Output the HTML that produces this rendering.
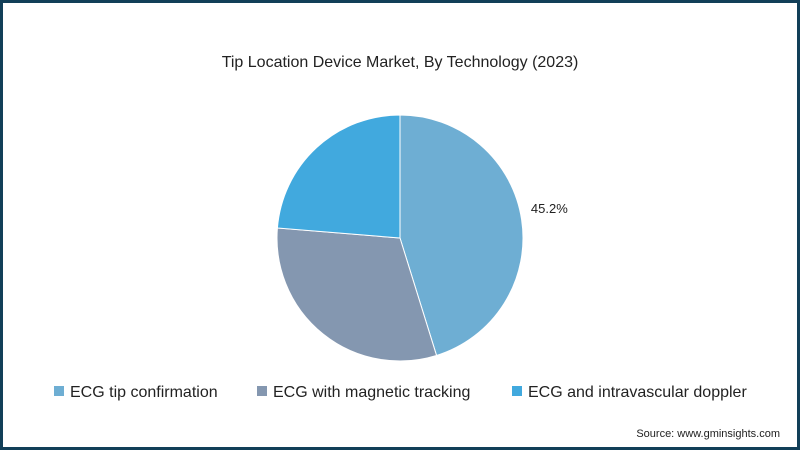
<!DOCTYPE html>
<html><head><meta charset="utf-8"><style>
html,body{margin:0;padding:0;}
body{width:800px;height:450px;overflow:hidden;background:#fff;font-family:"Liberation Sans",sans-serif;}
#frame{position:absolute;left:0;top:0;width:794px;height:444px;border:3px solid #123f58;background:#fff;}
</style></head><body>
<div id="frame"></div>
<svg width="800" height="450" style="position:absolute;left:0;top:0">
<text x="400" y="67" text-anchor="middle" font-size="16" fill="#222">Tip Location Device Market, By Technology (2023)</text>
<g id="pie"></g>
<g id="legend"></g>
<text x="780" y="437" text-anchor="end" font-size="11" fill="#222">Source: www.gminsights.com</text>
</svg>
<script>
const categories=["ECG tip confirmation","ECG with magnetic tracking","ECG and intravascular doppler"];
const values=[45.2,31.1,23.7];
const labels=["45.2%","",""];
const colors=["#6eaed3","#8497b0","#41a9de"];
const ns="http://www.w3.org/2000/svg";
const cx=400,cy=238,r=123;
const total=values.reduce((a,b)=>a+b,0);
const pie=document.getElementById('pie');
let a0=0;
function pt(a,rr){return [cx+rr*Math.sin(a),cy-rr*Math.cos(a)];}
values.forEach((v,i)=>{
  const a1=a0+v/total*2*Math.PI;
  const p0=pt(a0,r),p1=pt(a1,r);
  const large=(a1-a0)>Math.PI?1:0;
  const path=document.createElementNS(ns,'path');
  path.setAttribute('d',`M${cx},${cy} L${p0[0]},${p0[1]} A${r},${r} 0 ${large} 1 ${p1[0]},${p1[1]} Z`);
  path.setAttribute('fill',colors[i]);
  path.setAttribute('stroke','#fff');
  path.setAttribute('stroke-width','1');
  
  
  pie.appendChild(path);
  if(labels[i]){
    const am=(a0+a1)/2;const lp=pt(am,r+22);
    const t=document.createElementNS(ns,'text');
    t.setAttribute('x',lp[0]+6);t.setAttribute('y',lp[1]-3);
    t.setAttribute('font-size','13');t.setAttribute('fill','#222');t.setAttribute('text-anchor','middle');
    
    
    t.textContent=labels[i];pie.appendChild(t);
  }
  a0=a1;
});
const legend=document.getElementById('legend');
const lx=[54,257,512];
categories.forEach((c,i)=>{
  const g=document.createElementNS(ns,'g');
  
  
  const rc=document.createElementNS(ns,'rect');
  rc.setAttribute('x',lx[i]);rc.setAttribute('y',386);rc.setAttribute('width',10);rc.setAttribute('height',10);rc.setAttribute('fill',colors[i]);
  g.appendChild(rc);
  const t=document.createElementNS(ns,'text');
  t.setAttribute('x',lx[i]+16);t.setAttribute('y',397);t.setAttribute('font-size','16');t.setAttribute('fill','#222');
  t.textContent=c;g.appendChild(t);
  legend.appendChild(g);
});
</script>
</body></html>
